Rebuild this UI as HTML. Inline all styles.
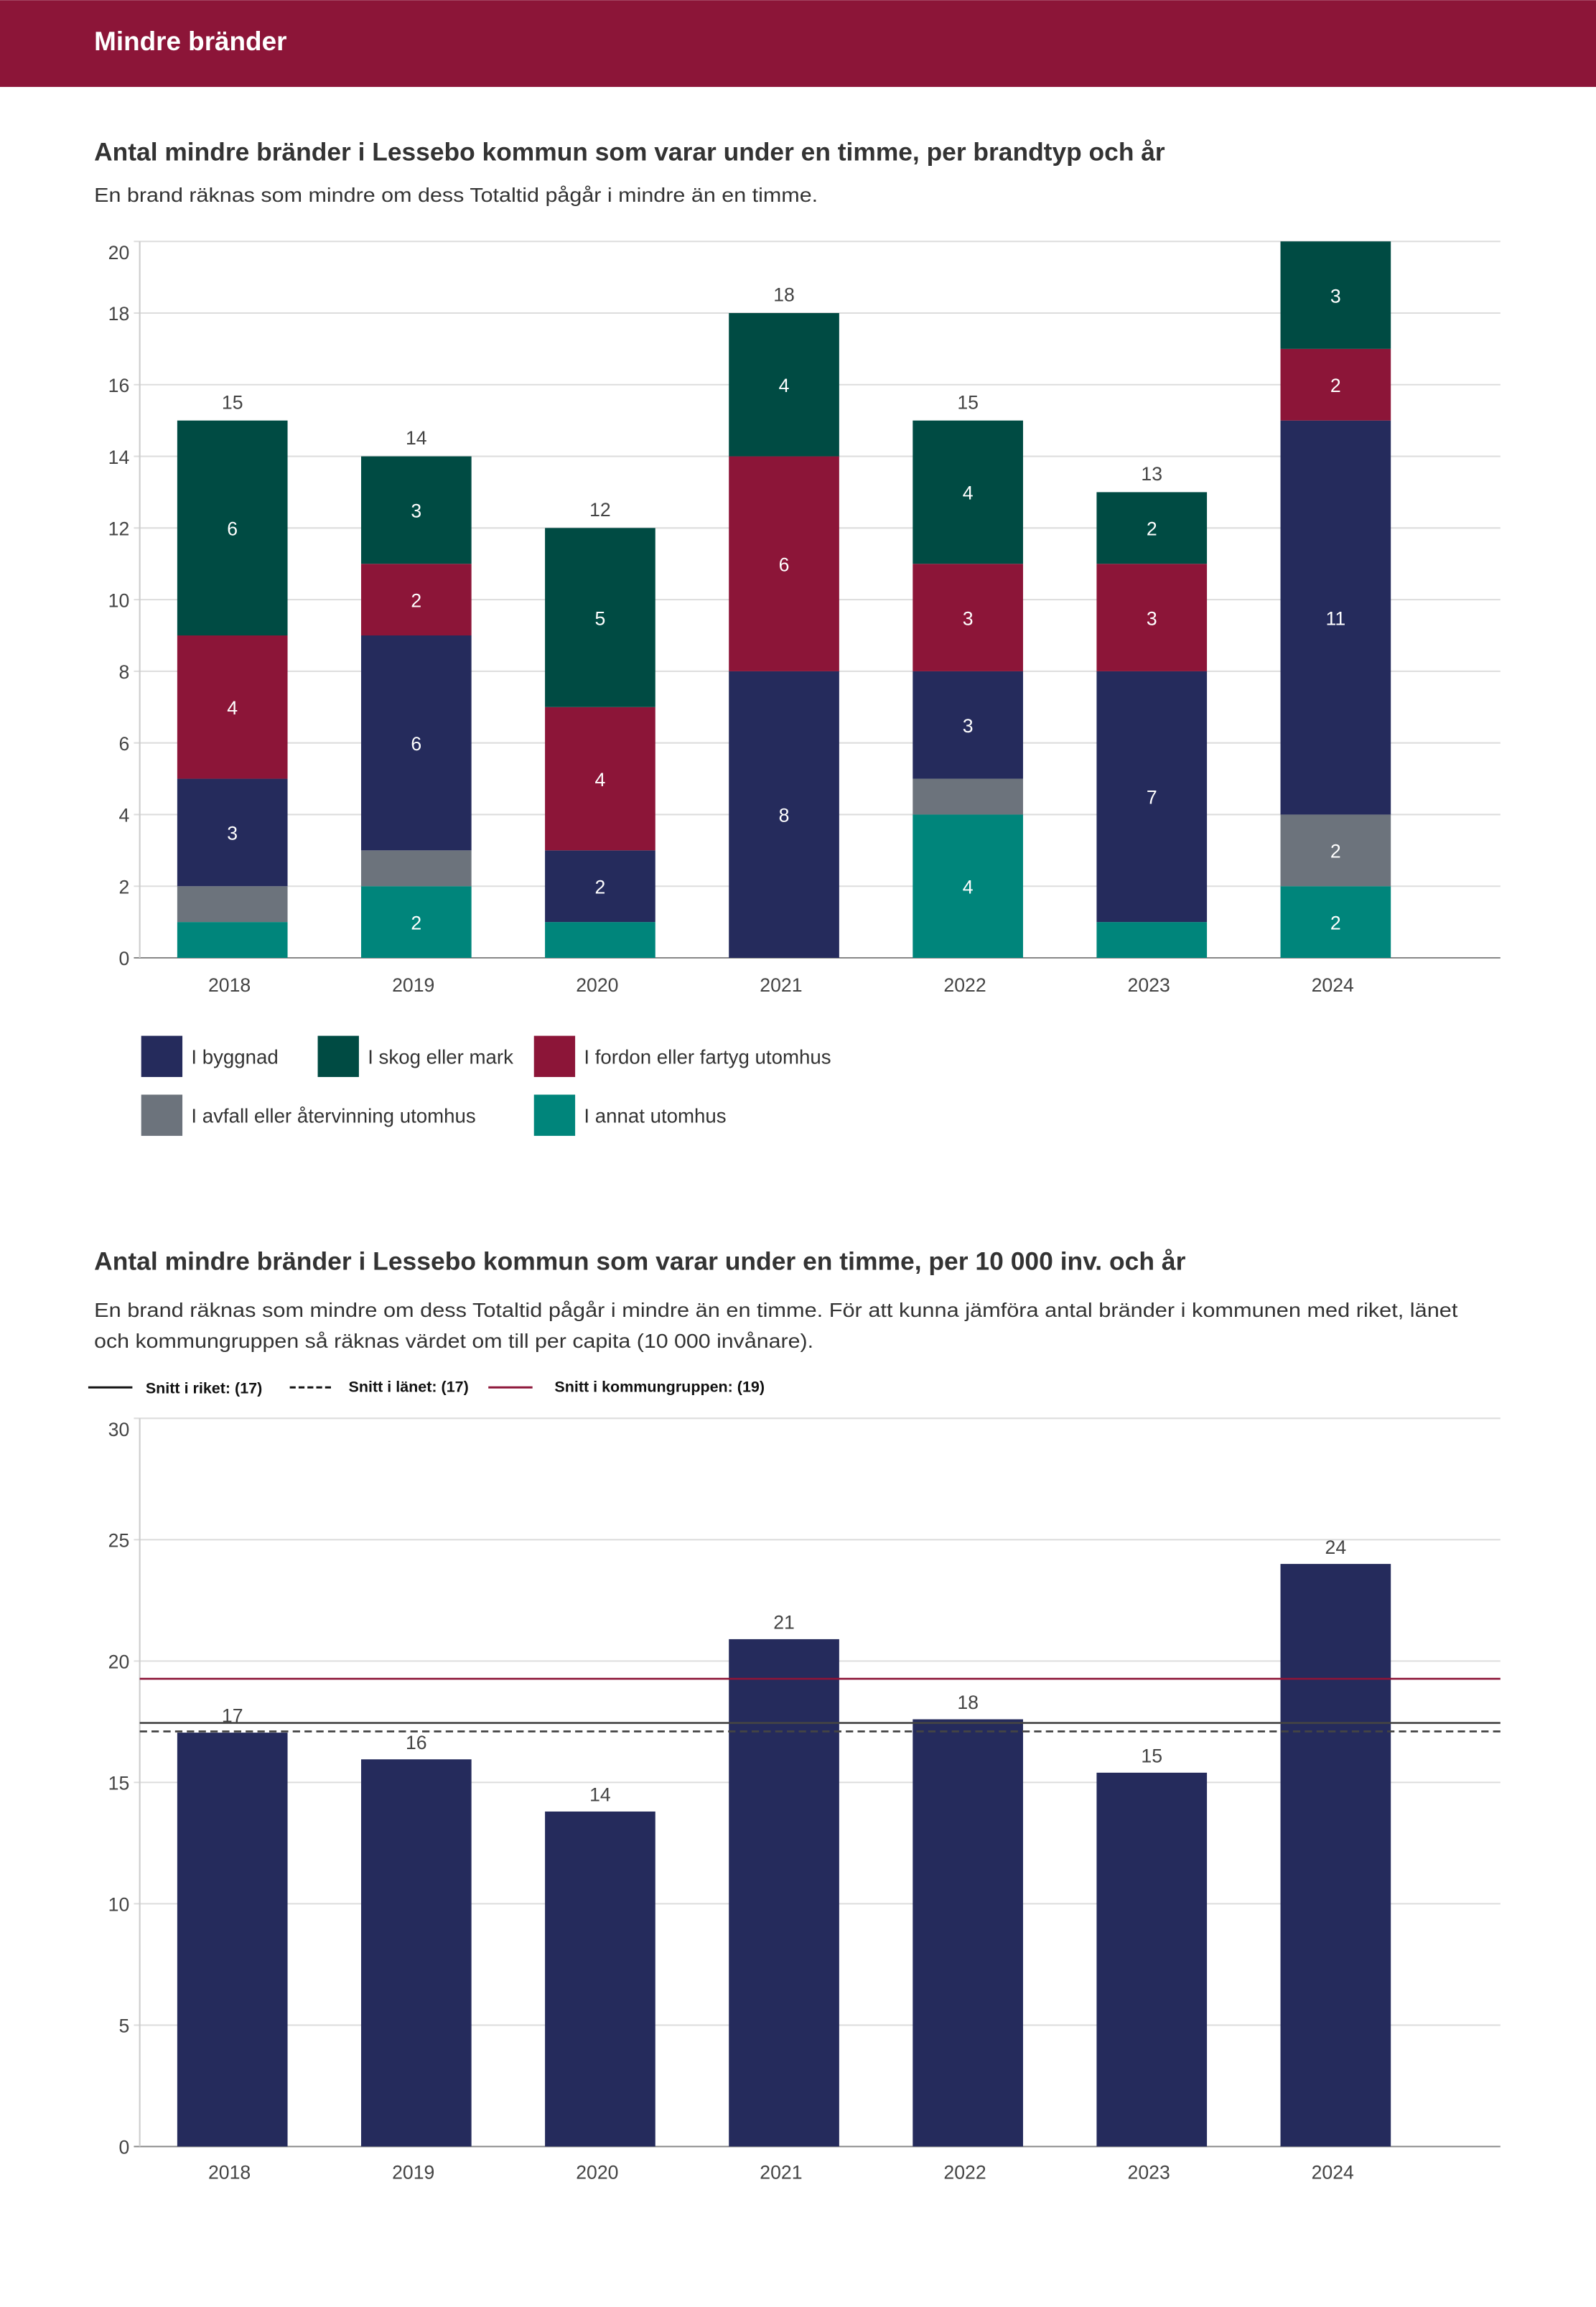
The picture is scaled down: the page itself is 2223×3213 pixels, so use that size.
<!DOCTYPE html>
<html><head><meta charset="utf-8"><style>
html,body{margin:0;padding:0;background:#fff;}
svg{display:block;font-family:"Liberation Sans",sans-serif;}
</style></head><body>
<svg id="root" width="2223" height="3213" viewBox="0 0 1085 1568" xmlns="http://www.w3.org/2000/svg">
<rect x="0" y="0" width="1085" height="59" fill="#8C1538"/>
<text x="64" y="34" fill="#fff" font-size="18" font-weight="bold">Mindre bränder</text>
<text x="64" y="109" fill="#333" font-size="17" font-weight="bold" textLength="728" lengthAdjust="spacingAndGlyphs">Antal mindre bränder i Lessebo kommun som varar under en timme, per brandtyp och år</text>
<text x="64" y="137" fill="#333" font-size="13.5" textLength="492" lengthAdjust="spacingAndGlyphs">En brand räknas som mindre om dess Totaltid pågår i mindre än en timme.</text>
<g id="c1"></g>
<g id="leg1"></g>
<text x="64" y="863" fill="#333" font-size="17" font-weight="bold" textLength="742" lengthAdjust="spacingAndGlyphs">Antal mindre bränder i Lessebo kommun som varar under en timme, per 10 000 inv. och år</text>
<text x="64" y="895" fill="#333" font-size="13.5" textLength="927" lengthAdjust="spacingAndGlyphs">En brand räknas som mindre om dess Totaltid pågår i mindre än en timme. För att kunna jämföra antal bränder i kommunen med riket, länet</text>
<text x="64" y="916" fill="#333" font-size="13.5" textLength="489" lengthAdjust="spacingAndGlyphs">och kommungruppen så räknas värdet om till per capita (10 000 invånare).</text>
<g>
<line x1="60" y1="943" x2="90" y2="943" stroke="#111" stroke-width="1.5"/>
<text x="99" y="947" font-size="10.5" font-weight="bold" fill="#111">Snitt i riket: (17)</text>
<line x1="197" y1="943" x2="227" y2="943" stroke="#111" stroke-width="1.5" stroke-dasharray="4,2"/>
<text x="237" y="946" font-size="10.5" font-weight="bold" fill="#111">Snitt i länet: (17)</text>
<line x1="332" y1="943" x2="362" y2="943" stroke="#8C1538" stroke-width="1.5"/>
<text x="377" y="946" font-size="10.5" font-weight="bold" fill="#111">Snitt i kommungruppen: (19)</text>
</g>
<g id="c2"></g>
</svg>
<script>
const years = ["2018","2019","2020","2021","2022","2023","2024"];
const annat = [1,2,1,0,4,1,2];
const avfall = [1,1,0,0,1,0,2];
const byggnad = [3,6,2,8,3,7,11];
const fordon = [4,2,4,6,3,3,2];
const skog = [6,3,5,4,4,2,3];
const yTicks1 = [0,2,4,6,8,10,12,14,16,18,20];
const perCapita = [17.05,15.95,13.8,20.9,17.6,15.4,24.0];
const yTicks2 = [0,5,10,15,20,25,30];
const snittRiket = 17.45;
const snittLanet = 17.1;
const snittKommungrupp = 19.27;

const NS = "http://www.w3.org/2000/svg";
function mk(tag, attrs, parent, txt){const e=document.createElementNS(NS,tag);for(const k in attrs)e.setAttribute(k,attrs[k]);if(txt!==undefined)e.textContent=txt;parent.appendChild(e);return e;}

const L=95,R=1020,step=125,x0=158,bw=75;
function xc(i){return x0+i*step;}

// Chart 1
const c1=document.getElementById('c1');
const y1=v=>651-v*(651-164)/20;
yTicks1.forEach(t=>{
  const g=mk('line',{x1:91,x2:R,y1:y1(t),y2:y1(t),stroke:t===0?'#888':'#ddd','stroke-width':1},c1);
  
  
  const ty=t===20?y1(t)+12:y1(t)+5;
  const tx=mk('text',{x:88,y:ty,'text-anchor':'end','font-size':13,fill:'#444'},c1,String(t));
  
  
});
const ax1=mk('line',{x1:L,x2:L,y1:164,y2:651,stroke:'#ccc','stroke-width':1},c1);


const series=[["annat",annat,"#00857B"],["avfall",avfall,"#6C737C"],["byggnad",byggnad,"#252B5C"],["fordon",fordon,"#8C1538"],["skog",skog,"#004B43"]];
years.forEach((yr,i)=>{
  let acc=0;
  series.forEach(([nm,arr,col])=>{
    const v=arr[i]; if(!v) return;
    const r=mk('rect',{x:xc(i)-bw/2,y:y1(acc+v),width:bw,height:y1(acc)-y1(acc+v),fill:col},c1);
    
    
    if(v>=2){
      const t=mk('text',{x:xc(i),y:(y1(acc)+y1(acc+v))/2+5,'text-anchor':'middle','font-size':13,fill:'#fff'},c1,String(v));
      
      
    }
    acc+=v;
  });
  if(acc<20){
    const t=mk('text',{x:xc(i),y:y1(acc)-8,'text-anchor':'middle','font-size':13,fill:'#444'},c1,String(acc));
    
    
  }
  const xl=mk('text',{x:xc(i)-2,y:674,'text-anchor':'middle','font-size':13,fill:'#444'},c1,yr);
  
  
});

// Legend 1
const leg=document.getElementById('leg1');
const legItems=[["I byggnad","#252B5C",96,704],["I skog eller mark","#004B43",216,704],["I fordon eller fartyg utomhus","#8C1538",363,704],["I avfall eller återvinning utomhus","#6C737C",96,744],["I annat utomhus","#00857B",363,744]];
legItems.forEach(([lab,col,x,y])=>{
  const r=mk('rect',{x:x,y:y,width:28,height:28,fill:col},leg);
  
  
  const t=mk('text',{x:x+34,y:y+19,'font-size':13.5,fill:'#333'},leg,lab);
  
  
});

// Chart 2
const c2=document.getElementById('c2');
const y2=v=>1459-v*(1459-964)/30;
yTicks2.forEach(t=>{
  const g=mk('line',{x1:91,x2:R,y1:y2(t),y2:y2(t),stroke:t===0?'#888':'#ddd','stroke-width':1},c2);
  
  
  const ty=t===30?y2(t)+12:y2(t)+5;
  const tx=mk('text',{x:88,y:ty,'text-anchor':'end','font-size':13,fill:'#444'},c2,String(t));
  
  
});
const ax2=mk('line',{x1:L,x2:L,y1:964,y2:1459,stroke:'#ccc','stroke-width':1},c2);


years.forEach((yr,i)=>{
  const v=perCapita[i];
  const r=mk('rect',{x:xc(i)-bw/2,y:y2(v),width:bw,height:y2(0)-y2(v),fill:'#252B5C'},c2);
  
  
  const t=mk('text',{x:xc(i),y:y2(v)-7,'text-anchor':'middle','font-size':13,fill:'#444'},c2,String(Math.round(v)));
  
  
  const xl=mk('text',{x:xc(i)-2,y:1481,'text-anchor':'middle','font-size':13,fill:'#444'},c2,yr);
  
  
});
const lk=mk('line',{x1:L,x2:R,y1:y2(snittKommungrupp),y2:y2(snittKommungrupp),stroke:'#8C1538','stroke-width':1.3},c2);


const lr=mk('line',{x1:L,x2:R,y1:y2(snittRiket),y2:y2(snittRiket),stroke:'#444','stroke-width':1.3},c2);


const ll=mk('line',{x1:L,x2:R,y1:y2(snittLanet),y2:y2(snittLanet),stroke:'#444','stroke-width':1.3,'stroke-dasharray':'5,3'},c2);


</script>
</body></html>
